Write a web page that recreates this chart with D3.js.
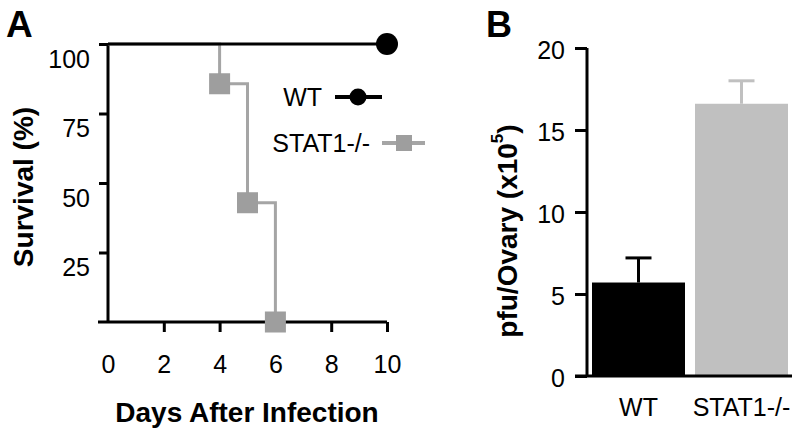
<!DOCTYPE html>
<html><head><meta charset="utf-8">
<script src="https://cdn.jsdelivr.net/npm/d3@7/dist/d3.min.js"></script>
<style>
html,body{margin:0;padding:0;background:#fff;}
svg text{font-family:"Liberation Sans",Arial,Helvetica,sans-serif;fill:#000;}
</style></head>
<body>
<svg id="chart" width="800" height="434"></svg>
<script>
// ---------- Data ----------
const survivalTicks = [25, 50, 75, 100];
const dayTicks = [0, 2, 4, 6, 8, 10];
const wtDays = [0, 10];
const wtSurvival = [100, 100];
const statDays = [0, 4, 5, 6];
const statSurvival = [100, 85.7, 42.9, 0];
const statMarkerDays = [4, 5, 6];
const statMarkerSurvival = [85.7, 42.9, 0];
const groups = ["WT", "STAT1-/-"];
const pfuMeans = [5.7, 16.6];
const pfuErrors = [1.5, 1.4];
const pfuTicks = [0, 5, 10, 15, 20];

const svg = d3.select("#chart");
const BLACK = "#000", GRAY_LINE = "#a5a5a5", GRAY_MARK = "#9e9e9e", GRAY_BAR = "#c0c0c0";
const FONT = '"Liberation Sans",Arial,sans-serif';

// ---------- Panel A ----------
const xA = d3.scaleLinear().domain([0, 10]).range([108, 387]);
const yA = d3.scaleLinear().domain([0, 100]).range([322, 44]);
const gA = svg.append("g");

gA.append("line").attr("x1", xA(0)).attr("x2", xA(0)).attr("y1", yA(100)).attr("y2", yA(0))
  .attr("stroke", BLACK).attr("stroke-width", 3);
gA.append("line").attr("x1", xA(0) - 10).attr("x2", xA(10)).attr("y1", yA(0)).attr("y2", yA(0))
  .attr("stroke", BLACK).attr("stroke-width", 3);

const yAxisA = gA.append("g").attr("transform", `translate(${xA(0)},0)`)
  .call(d3.axisLeft(yA).tickValues(survivalTicks).tickSize(9).tickPadding(9));
yAxisA.select(".domain").remove();
yAxisA.selectAll(".tick line").attr("stroke", BLACK).attr("stroke-width", 3);
yAxisA.selectAll(".tick text").attr("font-size", 25).attr("dy", "0.92em").style("font-family", FONT);

const xAxisA = gA.append("g").attr("transform", `translate(0,${yA(0)})`)
  .call(d3.axisBottom(xA).tickValues(dayTicks).tickSize(10).tickPadding(23));
xAxisA.select(".domain").remove();
xAxisA.selectAll(".tick line").attr("stroke", BLACK).attr("stroke-width", 3)
  .attr("opacity", d => d === 0 ? 0 : 1);
xAxisA.selectAll(".tick text").attr("font-size", 25).style("font-family", FONT);

gA.append("text").attr("x", 247).attr("y", 422).attr("text-anchor", "middle")
  .attr("font-size", 28).attr("font-weight", "bold").text("Days After Infection");
gA.append("text").attr("transform", "translate(33,187) rotate(-90)").attr("text-anchor", "middle")
  .attr("font-size", 28).attr("font-weight", "bold").text("Survival (%)");
gA.append("text").attr("x", 6).attr("y", 37).attr("font-size", 37).attr("font-weight", "bold").text("A");

const stepLine = d3.line().x(d => xA(d[0])).y(d => yA(d[1])).curve(d3.curveStepAfter);
gA.append("path").datum(statDays.map((d, i) => [d, statSurvival[i]]))
  .attr("d", stepLine).attr("fill", "none").attr("stroke", GRAY_LINE).attr("stroke-width", 3);
gA.append("path").datum(wtDays.map((d, i) => [d, wtSurvival[i]]))
  .attr("d", d3.line().x(d => xA(d[0])).y(d => yA(d[1])))
  .attr("fill", "none").attr("stroke", BLACK).attr("stroke-width", 3);
const sq = 21;
gA.selectAll("rect.stat").data(statMarkerDays.map((d, i) => [d, statMarkerSurvival[i]])).enter()
  .append("rect").attr("x", d => xA(d[0]) - sq / 2).attr("y", d => yA(d[1]) - sq / 2)
  .attr("width", sq).attr("height", sq).attr("fill", GRAY_MARK);
gA.append("circle").attr("cx", xA(wtDays[1])).attr("cy", yA(wtSurvival[1])).attr("r", 11).attr("fill", BLACK);

// legend
const lg = gA.append("g");
lg.append("text").attr("x", 322).attr("y", 97).attr("dy", "0.35em").attr("text-anchor", "end")
  .attr("font-size", 25).text(groups[0]);
lg.append("line").attr("x1", 335).attr("x2", 382).attr("y1", 97).attr("y2", 97)
  .attr("stroke", BLACK).attr("stroke-width", 4);
lg.append("circle").attr("cx", 358).attr("cy", 97).attr("r", 8.5).attr("fill", BLACK);
lg.append("text").attr("x", 370).attr("y", 143).attr("dy", "0.35em").attr("text-anchor", "end")
  .attr("font-size", 25).text(groups[1]);
lg.append("line").attr("x1", 382).attr("x2", 425).attr("y1", 143).attr("y2", 143)
  .attr("stroke", GRAY_LINE).attr("stroke-width", 4);
lg.append("rect").attr("x", 396).attr("y", 135).attr("width", 16).attr("height", 16).attr("fill", GRAY_MARK);

// ---------- Panel B ----------
const xB = d3.scaleBand().domain(groups).range([592, 788]).paddingInner(10 / 103).paddingOuter(0);
const yB = d3.scaleLinear().domain([0, 20]).range([376, 48]);
const gB = svg.append("g");
const barColors = [BLACK, GRAY_BAR];

gB.selectAll("rect.bar").data(groups).enter().append("rect")
  .attr("x", d => xB(d)).attr("y", (d, i) => yB(pfuMeans[i]))
  .attr("width", xB.bandwidth()).attr("height", (d, i) => yB(0) - yB(pfuMeans[i]))
  .attr("fill", (d, i) => barColors[i]);
groups.forEach((g, i) => {
  const cx = xB(g) + xB.bandwidth() / 2;
  gB.append("line").attr("x1", cx).attr("x2", cx)
    .attr("y1", yB(pfuMeans[i])).attr("y2", yB(pfuMeans[i] + pfuErrors[i]))
    .attr("stroke", barColors[i]).attr("stroke-width", 3);
  gB.append("line").attr("x1", cx - 13).attr("x2", cx + 13)
    .attr("y1", yB(pfuMeans[i] + pfuErrors[i])).attr("y2", yB(pfuMeans[i] + pfuErrors[i]))
    .attr("stroke", barColors[i]).attr("stroke-width", 3);
});

gB.append("line").attr("x1", 587).attr("x2", 587).attr("y1", yB(20)).attr("y2", yB(0))
  .attr("stroke", BLACK).attr("stroke-width", 3);
gB.append("line").attr("x1", 575).attr("x2", 792).attr("y1", yB(0)).attr("y2", yB(0))
  .attr("stroke", BLACK).attr("stroke-width", 3);
const yAxisB = gB.append("g").attr("transform", "translate(587,0)")
  .call(d3.axisLeft(yB).tickValues(pfuTicks).tickSize(12).tickPadding(10));
yAxisB.select(".domain").remove();
yAxisB.selectAll(".tick line").attr("stroke", BLACK).attr("stroke-width", 3);
yAxisB.selectAll(".tick text").attr("font-size", 25).attr("dy", "0.4em").style("font-family", FONT);
const xAxisB = gB.append("g").attr("transform", `translate(0,${yB(0)})`)
  .call(d3.axisBottom(xB).tickSize(0).tickPadding(22));
xAxisB.select(".domain").remove();
xAxisB.selectAll(".tick text").attr("font-size", 25).style("font-family", FONT);

const tB = gB.append("text").attr("transform", "translate(517,231) rotate(-90)").attr("text-anchor", "middle")
  .attr("font-size", 28).attr("font-weight", "bold");
tB.append("tspan").text("pfu/Ovary (x10");
tB.append("tspan").attr("font-size", 17).attr("dy", "-0.8em").text("5");
tB.append("tspan").attr("dy", "0.49em").text(")");
gB.append("text").attr("x", 486).attr("y", 37).attr("font-size", 36).attr("font-weight", "bold").text("B");
</script>
</body></html>
